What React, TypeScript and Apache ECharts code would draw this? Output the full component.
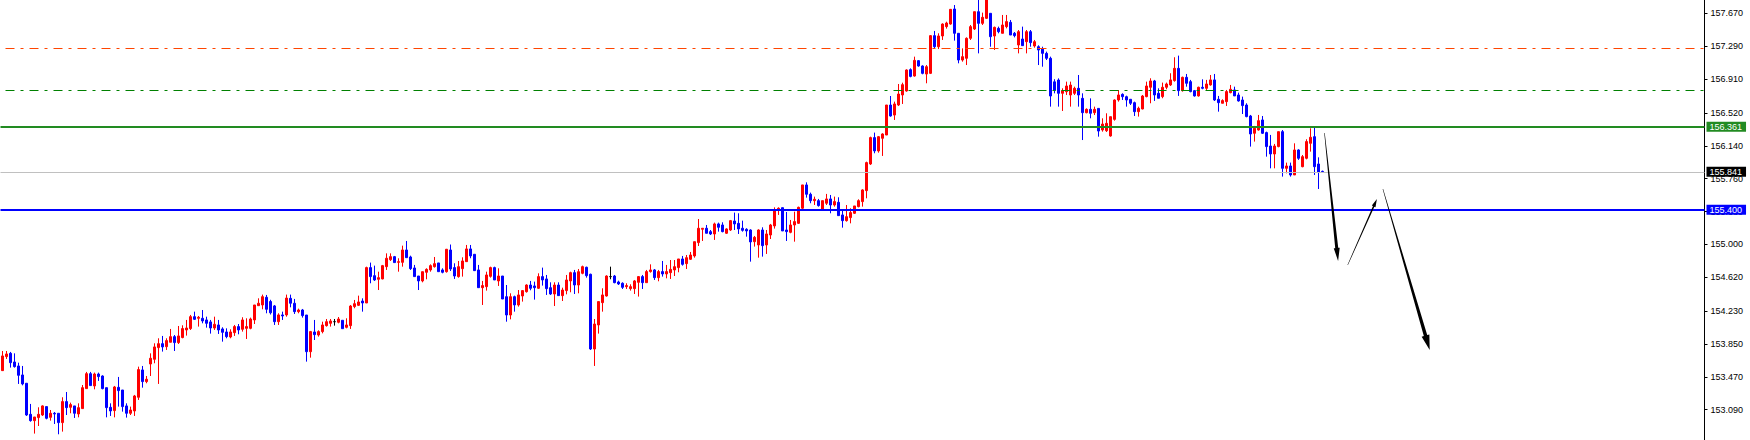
import React, { useEffect, useRef } from "react";
import * as echarts from "echarts";

// Candles as [open, close, low, high]
const candlesPart1 = [
  [153.541,153.711,153.537,153.768],[153.703,153.734,153.676,153.768],[153.741,153.633,153.576,153.757],
  [153.641,153.587,153.576,153.741],[153.595,153.487,153.387,153.633],[153.491,153.387,153.371,153.595],
  [153.395,153.028,153.017,153.395],[153.036,152.963,152.951,153.156],[152.963,153.005,152.813,153.005],
  [152.998,153.036,152.901,153.117],[153.028,153.133,153.017,153.140],[153.125,152.990,152.978,153.125],
  [153.001,153.048,152.963,153.086],[153.048,153.040,152.924,153.063],[153.048,152.940,152.805,153.048],
  [152.940,153.183,152.836,153.233],[153.183,153.113,153.028,153.294],[153.117,153.148,153.048,153.171],
  [153.133,153.048,152.994,153.133],[153.040,153.113,153.001,153.163],[153.102,153.344,153.102,153.375],
  [153.333,153.506,153.333,153.526],[153.506,153.368,153.368,153.526],[153.364,153.502,153.325,153.518],
  [153.502,153.472,153.422,153.518],[153.479,153.333,153.325,153.487],[153.344,153.113,153.001,153.344],
  [153.117,153.075,153.017,153.163],[153.079,153.352,153.001,153.364],[153.348,153.310,153.125,153.468],
  [153.317,153.125,153.067,153.317],[153.133,153.048,152.998,153.163],[153.048,153.086,153.028,153.125],
  [153.075,153.248,153.017,153.260],[153.233,153.553,153.202,153.587],[153.549,153.414,153.344,153.595],
  [153.414,153.441,153.395,153.479],[153.618,153.684,153.479,153.741],[153.672,153.815,153.626,153.857],
  [153.807,153.853,153.387,153.915],[153.853,153.815,153.761,153.942],[153.818,153.888,153.780,153.915],
  [153.869,153.934,153.869,154.023],[153.934,153.865,153.768,153.953],[153.865,153.942,153.849,154.057],
  [153.923,154.027,153.915,154.065],[154.011,154.034,153.946,154.127],[154.027,154.165,154.011,154.185],
  [154.165,154.134,154.127,154.223],[154.146,154.158,154.050,154.173],[154.146,154.115,154.088,154.242],
  [154.127,154.088,154.038,154.165],[154.104,154.034,153.969,154.127],[154.034,154.077,154.011,154.165],
  [154.069,154.011,153.965,154.127],[154.023,153.984,153.876,154.042],[153.988,153.934,153.915,154.030],
  [153.930,153.988,153.915,154.019],[153.980,154.050,153.942,154.069],[154.050,154.011,153.961,154.080],
  [154.019,154.127,153.992,154.158],[154.030,154.050,153.907,154.146],[154.030,154.138,154.019,154.154],
  [154.127,154.300,154.080,154.300],[154.292,154.320,154.289,154.377],[154.300,154.396,154.250,154.420],
  [154.389,154.250,154.204,154.416],[154.340,154.210,154.190,154.360],[154.289,154.107,154.069,154.300],
  [154.107,154.185,154.069,154.204],[154.185,154.173,154.127,154.223],[154.185,154.380,154.165,154.420],
  [154.377,154.320,154.273,154.420],[154.320,154.223,154.196,154.370],[154.223,154.242,154.204,154.258],
];

const candlesPart2 = [
  [154.242,154.177,154.154,154.254],[154.184,153.760,153.645,154.184],[153.760,153.992,153.691,154.000],
  [153.988,153.957,153.895,154.127],[153.953,153.992,153.934,154.007],[153.992,154.069,153.972,154.107],
  [154.061,154.107,154.050,154.138],[154.088,154.115,154.050,154.138],[154.107,154.107,154.061,154.138],
  [154.100,154.138,154.088,154.161],[154.123,154.026,154.026,154.123],[154.042,154.069,154.030,154.146],
  [154.061,154.288,154.023,154.300],[154.281,154.315,154.262,154.358],[154.296,154.335,154.288,154.408],
  [154.346,154.323,154.223,154.377],[154.323,154.732,154.323,154.743],[154.732,154.628,154.551,154.790],
  [154.639,154.589,154.578,154.755],[154.597,154.616,154.473,154.685],[154.601,154.755,154.597,154.763],
  [154.743,154.840,154.705,154.897],[154.824,154.859,154.809,154.897],[154.859,154.790,154.790,154.867],
  [154.793,154.801,154.685,154.840],[154.793,154.936,154.743,154.986],[154.936,154.847,154.847,155.040],
  [154.855,154.720,154.705,154.870],[154.728,154.628,154.628,154.763],[154.635,154.578,154.473,154.635],
  [154.578,154.685,154.562,154.685],[154.678,154.712,154.597,154.724],[154.705,154.755,154.685,154.770],
  [154.743,154.778,154.732,154.855],[154.786,154.685,154.685,154.786],[154.705,154.678,154.666,154.724],
  [154.685,154.944,154.674,154.948],[154.936,154.716,154.693,154.999],[154.732,154.635,154.601,154.782],
  [154.628,154.743,154.616,154.809],[154.720,154.809,154.628,154.851],[154.801,154.948,154.797,154.994],
  [154.948,154.867,154.840,154.994],[154.886,154.697,154.693,154.886],[154.705,154.500,154.500,154.763],
  [154.500,154.524,154.300,154.578],[154.512,154.647,154.466,154.685],[154.631,154.732,154.616,154.743],
  [154.732,154.589,154.589,154.743],[154.578,154.635,154.520,154.724],[154.635,154.369,154.369,154.635],
  [154.396,154.184,154.107,154.531],[154.184,154.396,154.134,154.435],[154.396,154.300,154.223,154.408],
  [154.300,154.416,154.281,154.473],[154.404,154.466,154.339,154.473],[154.454,154.531,154.443,154.539],
  [154.531,154.493,154.470,154.578],[154.520,154.500,154.362,154.570],[154.493,154.628,154.485,154.666],
  [154.628,154.589,154.524,154.732],[154.601,154.489,154.416,154.647],[154.500,154.427,154.416,154.562],
  [154.427,154.531,154.288,154.562],[154.531,154.408,154.408,154.562],[154.408,154.473,154.346,154.500],
  [154.466,154.589,154.423,154.647],[154.578,154.674,154.447,154.685],[154.674,154.531,154.427,154.705],
  [154.531,154.685,154.435,154.716],[154.666,154.743,154.655,154.755],[154.736,154.639,154.616,154.743],
  [154.655,153.791,153.780,154.662],[153.791,154.080,153.595,154.138],[154.069,154.339,153.969,154.339],
];

const candlesPart3 = [
  [154.327,154.416,154.223,154.493],[154.404,154.635,154.397,154.643],[154.628,154.628,154.597,154.743],
  [154.635,154.558,154.551,154.647],[154.566,154.543,154.531,154.581],[154.551,154.504,154.485,154.562],
  [154.512,154.524,154.485,154.551],[154.489,154.512,154.466,154.539],[154.489,154.578,154.427,154.589],
  [154.562,154.628,154.397,154.635],[154.628,154.558,154.485,154.647],[154.558,154.686,154.558,154.705],
  [154.686,154.705,154.674,154.770],[154.705,154.616,154.589,154.716],[154.616,154.686,154.574,154.705],
  [154.686,154.659,154.628,154.809],[154.659,154.686,154.608,154.763],[154.674,154.712,154.601,154.820],
  [154.705,154.743,154.635,154.820],[154.732,154.832,154.678,154.832],[154.832,154.770,154.755,154.867],
  [154.778,154.847,154.716,154.878],[154.828,154.878,154.820,154.913],[154.867,155.032,154.847,155.032],
  [155.021,155.187,154.982,155.294],[155.175,155.187,155.040,155.187],[155.187,155.129,155.129,155.225],
  [155.148,155.121,155.109,155.167],[155.121,155.237,155.052,155.252],[155.237,155.198,155.148,155.252],
  [155.225,155.148,155.140,155.256],[155.129,155.179,155.121,155.187],[155.167,155.275,155.156,155.283],
  [155.271,155.237,155.167,155.368],[155.244,155.179,155.121,155.360],[155.187,155.163,155.148,155.275],
  [155.175,155.156,155.090,155.187],[155.167,155.029,154.801,155.175],[155.032,155.082,154.975,155.098],
  [154.994,155.167,154.847,155.175],[155.167,154.986,154.859,155.198],[154.994,155.121,154.890,155.167],
  [155.109,155.225,155.063,155.237],[155.214,155.399,155.183,155.429],[155.406,155.418,155.341,155.429],
  [155.425,155.156,155.156,155.425],[155.167,155.148,155.040,155.375],[155.140,155.225,155.129,155.283],
  [155.225,155.264,155.032,155.379],[155.244,155.429,155.237,155.437],[155.418,155.688,155.406,155.688],
  [155.688,155.580,155.541,155.718],[155.580,155.506,155.476,155.599],[155.506,155.522,155.456,155.553],
  [155.506,155.449,155.437,155.526],[155.399,155.506,155.399,155.506],[155.476,155.526,155.456,155.584],
  [155.526,155.456,155.360,155.572],[155.456,155.495,155.437,155.553],[155.487,155.333,155.333,155.545],
  [155.341,155.275,155.194,155.387],[155.275,155.321,155.264,155.456],[155.310,155.368,155.244,155.418],
  [155.360,155.445,155.352,155.445],[155.437,155.506,155.429,155.522],
];

const candlesPart4 = [
  [155.495,155.630,155.437,155.638],[155.622,155.946,155.533,155.957],[155.930,156.235,155.919,156.246],
  [156.235,156.081,156.054,156.293],[156.081,156.246,156.061,156.254],[156.227,156.277,156.023,156.285],
  [156.265,156.612,156.265,156.612],[156.612,156.485,156.477,156.716],[156.496,156.624,156.439,156.651],
  [156.612,156.739,156.600,156.855],[156.728,156.847,156.624,156.870],[156.774,157.017,156.766,157.024],
  [157.021,156.943,156.932,157.036],[156.947,157.128,156.940,157.171],[157.125,157.063,157.055,157.132],
  [157.063,156.978,156.967,157.071],[156.970,157.055,156.863,157.074],[156.978,157.414,156.970,157.421],
  [157.414,157.286,157.267,157.468],[157.286,157.410,157.259,157.441],[157.410,157.548,157.364,157.556],
  [157.518,157.560,157.495,157.575],[157.548,157.718,157.540,157.722],[157.722,157.441,157.356,157.768],
  [157.441,157.132,157.094,157.441],[157.132,157.171,157.113,157.267],[157.152,157.383,157.074,157.394],
  [157.383,157.518,157.364,157.537],[157.491,157.691,157.479,157.691],[157.691,157.556,157.209,157.826],
  [157.556,157.626,157.537,157.680],[157.614,157.826,157.606,157.845],[157.672,157.402,157.286,157.672],
  [157.410,157.510,157.248,157.518],[157.498,157.460,157.441,157.518],[157.441,157.537,157.441,157.653],
  [157.518,157.576,157.498,157.653],[157.568,157.421,157.421,157.595],[157.441,157.414,157.394,157.456],
  [157.306,157.460,157.209,157.479],[157.375,157.298,157.294,157.518],[157.344,157.460,157.209,157.479],
  [157.460,157.333,157.286,157.479],[157.294,157.344,157.275,157.364],[157.286,157.248,157.074,157.302],
  [157.259,157.209,157.055,157.286],[157.209,157.152,157.132,157.229],[157.152,156.716,156.593,157.171],
];

const candlesPart5 = [
  [156.880,156.780,156.747,156.910],[156.901,156.747,156.593,156.920],[156.747,156.778,156.543,156.805],
  [156.766,156.832,156.728,156.882],[156.728,156.843,156.593,156.882],[156.747,156.805,156.728,156.824],
  [156.805,156.728,156.593,156.959],[156.689,156.523,156.207,156.747],[156.523,156.562,156.516,156.573],
  [156.562,156.516,156.458,156.689],[156.523,156.562,156.496,156.593],[156.573,156.311,156.246,156.573],
  [156.323,156.392,156.304,156.458],[156.315,156.400,156.300,156.516],[156.254,156.477,156.246,156.477],
  [156.446,156.670,156.431,156.678],[156.670,156.728,156.651,156.785],[156.735,156.708,156.670,156.747],
  [156.708,156.670,156.593,156.720],
];

const candlesPart6 = [
  [156.678,156.632,156.612,156.678],[156.639,156.535,156.485,156.651],[156.535,156.574,156.478,156.593],
  [156.566,156.716,156.562,156.728],[156.709,156.832,156.701,156.882],[156.817,156.890,156.632,156.921],
  [156.890,156.728,156.659,156.902],[156.747,156.690,156.690,156.805],[156.709,156.817,156.690,156.871],
  [156.817,156.855,156.794,156.871],[156.844,156.902,156.832,156.979],[156.894,157.036,156.882,157.164],
  [157.036,156.778,156.717,157.183],[156.778,156.932,156.767,156.940],[156.932,156.863,156.824,156.971],
  [156.882,156.767,156.759,156.902],[156.778,156.717,156.709,156.786],[156.717,156.817,156.709,156.824],
  [156.817,156.805,156.794,156.909],[156.805,156.855,156.786,156.902],[156.844,156.902,156.836,156.959],
  [156.902,156.670,156.659,156.971],[156.678,156.639,156.535,156.717],[156.632,156.663,156.632,156.678],
  [156.651,156.767,156.601,156.786],[156.755,156.794,156.747,156.844],[156.786,156.717,156.717,156.824],
  [156.728,156.659,156.651,156.755],[156.670,156.605,156.508,156.709],[156.612,156.478,156.470,156.632],
  [156.485,156.277,156.131,156.497],[156.285,156.343,156.189,156.370],[156.323,156.431,156.316,156.497],
  [156.439,156.285,156.277,156.485],[156.293,156.131,156.015,156.304],[156.138,156.046,155.880,156.266],
  [156.046,156.138,155.880,156.162],[156.131,156.304,156.123,156.304],[156.304,155.880,155.784,156.323],
  [155.880,155.907,155.822,155.946],[155.907,155.803,155.784,155.946],[155.803,156.092,155.803,156.169],
  [156.092,155.996,155.977,156.100],[155.899,156.015,155.892,156.034],[155.996,156.189,155.984,156.216],
  [156.169,156.239,156.073,156.343],[156.246,155.899,155.803,156.354],[155.930,155.834,155.641,156.007],
  [155.845,155.841,155.826,155.853],
];

// Right price-axis tick labels
const priceTicks = [157.67, 157.29, 156.91, 156.52, 156.14, 155.76, 155.38, 155.0, 154.62, 154.23, 153.85, 153.47, 153.09];

// Horizontal levels
const levelOrangeDash = 157.268;
const levelGreenDash = 156.782;
const levelGreen = 156.361;
const levelBid = 155.841;
const levelBlue = 155.4;

// Hand-drawn arrows, [bar index, price] from -> to
const arrowFrom = [[330.5, 156.288], [336.3, 154.762], [345.1, 155.641]];
const arrowTo = [[333.9, 154.809], [343.6, 155.525], [356.8, 153.78]];

const Y_MIN = 152.739;
const Y_MAX = 157.826;
const SLOTS = 426;

const arrowLook = [
  { wEnd: 3, headW: 6, headL: 13 },
  { wEnd: 1.5, headW: 4, headL: 8 },
  { wEnd: 3.5, headW: 8, headL: 15 },
];

function arrowPolygon(p0: number[], p1: number[], wEnd: number, headW: number, headL: number) {
  const wStart = 0.5;
  const dx = p1[0] - p0[0];
  const dy = p1[1] - p0[1];
  const len = Math.hypot(dx, dy);
  const ux = dx / len, uy = dy / len;
  const nx = -uy, ny = ux;
  const bx = p1[0] - ux * headL, by = p1[1] - uy * headL;
  return [
    [p0[0] + (nx * wStart) / 2, p0[1] + (ny * wStart) / 2],
    [bx + (nx * wEnd) / 2, by + (ny * wEnd) / 2],
    [bx + (nx * headW) / 2, by + (ny * headW) / 2],
    [p1[0], p1[1]],
    [bx - (nx * headW) / 2, by - (ny * headW) / 2],
    [bx - (nx * wEnd) / 2, by - (ny * wEnd) / 2],
    [p0[0] - (nx * wStart) / 2, p0[1] - (ny * wStart) / 2],
  ];
}

export default function App() {
  const ref = useRef<HTMLDivElement>(null);

  useEffect(() => {
    if (!ref.current) return;
    const chart = echarts.init(ref.current, undefined, { renderer: "svg" });
    const candles = [
      ...candlesPart1, ...candlesPart2, ...candlesPart3,
      ...candlesPart4, ...candlesPart5, ...candlesPart6,
    ];
    const categories = Array.from({ length: SLOTS }, (_, i) => String(i));
    const font = "Liberation Sans";
    const boxLabel = (value: number, bg: string) => ({
      show: true,
      position: "end" as const,
      distance: 2,
      formatter: value.toFixed(3),
      color: "#ffffff",
      backgroundColor: bg,
      padding: [1, 4, 0, 3],
      fontSize: 9,
      lineHeight: 9,
      fontFamily: font,
    });
    const dashDot = [9, 6, 3, 6];

    chart.setOption({
      animation: false,
      backgroundColor: "#ffffff",
      grid: { left: 0.5, right: 45.5, top: 0, bottom: 0, containLabel: false },
      xAxis: [
        { type: "category", data: categories, show: false, boundaryGap: true },
        { type: "value", min: -0.5, max: SLOTS - 0.5, show: false },
      ],
      yAxis: {
        type: "value",
        position: "right",
        min: Y_MIN,
        max: Y_MAX,
        axisLine: { show: true, onZero: false, lineStyle: { color: "#000000", width: 1 } },
        axisTick: { show: true, inside: false, length: 3, lineStyle: { color: "#000000" }, customValues: priceTicks },
        axisLabel: {
          show: true,
          inside: false,
          customValues: priceTicks,
          formatter: (v: number) => v.toFixed(3),
          color: "#000000",
          fontSize: 9,
          fontFamily: font,
          margin: 6,
        },
        splitLine: { show: false },
      },
      series: [
        {
          type: "candlestick",
          xAxisIndex: 0,
          yAxisIndex: 0,
          data: candles,
          barWidth: 2,
          clip: true,
          itemStyle: {
            color: "#ff0000",
            color0: "#0000ff",
            borderColor: "#ff0000",
            borderColor0: "#0000ff",
            borderColorDoji: "#000000",
            borderWidth: 1,
          },
          markLine: {
            silent: true,
            symbol: "none",
            symbolSize: 0,
            animation: false,
            data: [
              { yAxis: levelOrangeDash, lineStyle: { color: "#ff4500", width: 1, type: dashDot, dashOffset: 19 }, label: { show: false } },
              { yAxis: levelGreenDash, lineStyle: { color: "#008000", width: 1, type: dashDot, dashOffset: 19 }, label: { show: false } },
              { yAxis: levelBid, lineStyle: { color: "#c0c0c0", width: 1, type: "solid" }, label: boxLabel(levelBid, "#000000") },
              { yAxis: levelGreen, lineStyle: { color: "#228b22", width: 2, type: "solid" }, label: boxLabel(levelGreen, "#228b22") },
              { yAxis: levelBlue, lineStyle: { color: "#0000ff", width: 2, type: "solid" }, label: boxLabel(levelBlue, "#0000ff") },
            ],
          },
        },
      ],
    });

    const toPx = (pt: number[]) => chart.convertToPixel({ xAxisIndex: 1, yAxisIndex: 0 }, pt) as number[];
    const arrowElements = arrowFrom.map((from, k) => {
      const p0 = toPx(from);
      const p1 = toPx(arrowTo[k]);
      const look = arrowLook[k];
      return {
        type: "polygon",
        silent: true,
        z: 100,
        shape: { points: arrowPolygon(p0, p1, look.wEnd, look.headW, look.headL) },
        style: { fill: "#000000" },
      };
    });
    chart.setOption({ graphic: arrowElements });

    return () => chart.dispose();
  }, []);

  return (
    <div
      ref={ref}
      style={{ position: "fixed", left: 0, top: 0, width: 1750, height: 440, background: "#ffffff" }}
    />
  );
}
